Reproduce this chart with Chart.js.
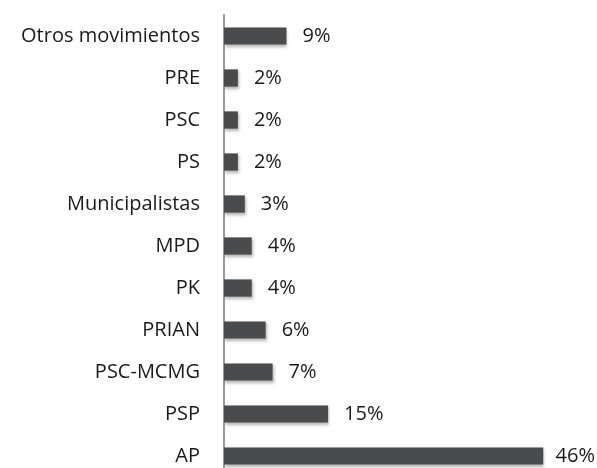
<!DOCTYPE html>
<html>
<head>
<meta charset="utf-8">
<script src="https://cdn.jsdelivr.net/npm/chart.js@4"></script>
<style>
html,body{margin:0;padding:0;background:#fff;overflow:hidden;}
#wrap{width:597px;height:480px;}
canvas{display:block;}
</style>
</head>
<body>
<div id="wrap"><canvas id="c" width="597" height="480"></canvas></div>
<script>
const categories = ["Otros movimientos","PRE","PSC","PS","Municipalistas","MPD","PK","PRIAN","PSC-MCMG","PSP","AP"];
const values = [9,2,2,2,3,4,4,6,7,15,46];
const valueLabels = ["9%","2%","2%","2%","3%","4%","4%","6%","7%","15%","46%"];

const FONT = "'Open Sans', sans-serif";

const shadowPlugin = {
  id: 'barShadow',
  beforeDatasetDraw(chart) {
    const ctx = chart.ctx;
    ctx.save();
    ctx.shadowColor = 'rgba(0,0,0,0.30)';
    ctx.shadowBlur = 3;
    ctx.shadowOffsetX = 1;
    ctx.shadowOffsetY = 2;
  },
  afterDatasetDraw(chart) {
    chart.ctx.restore();
  }
};

const labelPlugin = {
  id: 'valueLabels',
  afterDatasetsDraw(chart) {
    const ctx = chart.ctx;
    const meta = chart.getDatasetMeta(0);
    ctx.save();
    ctx.font = "20px " + FONT;
    ctx.fillStyle = "#1a1a1a";
    ctx.textBaseline = "middle";
    ctx.textAlign = "left";
    meta.data.forEach((bar, i) => {
      const t = valueLabels[i];
      const w = ctx.measureText(t).width;
      let x = bar.x + 16;
      if (x + w > chart.width - 2) x = chart.width - 2 - w;
      ctx.fillText(t, x, bar.y);
    });
    ctx.restore();
  }
};

new Chart(document.getElementById('c'), {
  type: 'bar',
  data: {
    labels: categories,
    datasets: [{
      data: values,
      backgroundColor: '#4a4b4d',
      borderWidth: 0,
      barPercentage: 0.41,
      categoryPercentage: 1.0
    }]
  },
  options: {
    indexAxis: 'y',
    responsive: false,
    animation: false,
    layout: { padding: { top: 15, bottom: 3, left: 0, right: 26 } },
    plugins: { legend: { display: false }, tooltip: { enabled: false } },
    scales: {
      x: {
        display: false,
        min: 0,
        max: 50
      },
      y: {
        grid: { display: false, drawTicks: false },
        border: { display: true, color: '#9a9a9a', width: 2 },
        ticks: {
          color: '#1a1a1a',
          font: { family: FONT, size: 20 },
          padding: 24
        },
        afterFit(scale) {
          scale.width = 224;
          scale.paddingTop = 0;
          scale.paddingBottom = 0;
        }
      }
    }
  },
  plugins: [shadowPlugin, labelPlugin]
});
</script>
</body>
</html>
